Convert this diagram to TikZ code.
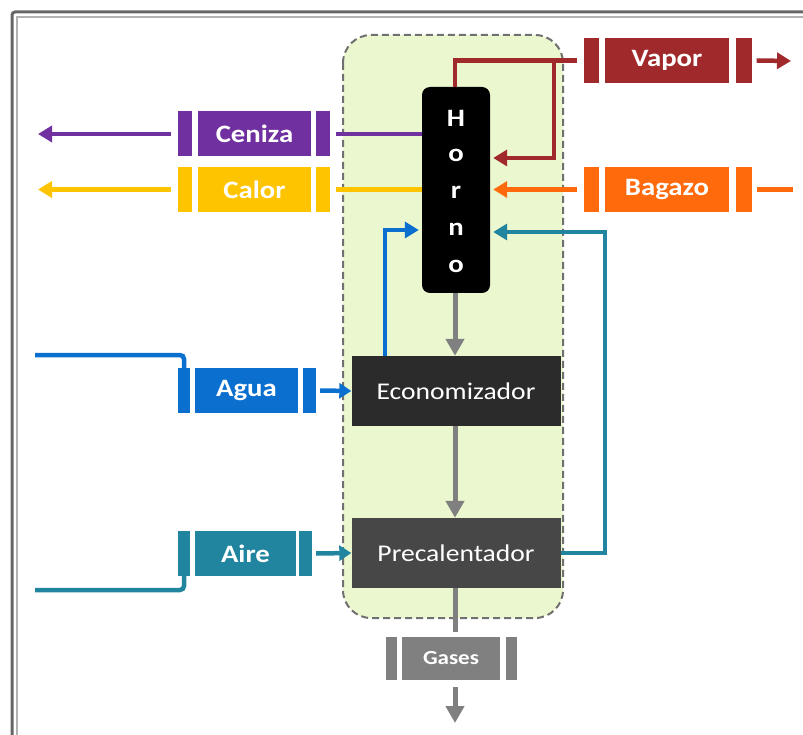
\documentclass[tikz,border=0pt]{standalone}
\usepackage{fontspec}
\setmainfont{Carlito}
\newfontfamily\tagfont{Carlito}[FakeStretch=1.15]
\usetikzlibrary{arrows.meta}
\definecolor{cvapor}{HTML}{A0292B}
\definecolor{cbagazo}{HTML}{FF6A0D}
\definecolor{cceniza}{HTML}{7030A0}
\definecolor{ccalor}{HTML}{FFC400}
\definecolor{cagua}{HTML}{0B6FCF}
\definecolor{caire}{HTML}{2185A0}
\definecolor{cecon}{HTML}{2B2B2B}
\definecolor{cpre}{HTML}{474747}
\definecolor{cgas}{HTML}{808080}
\definecolor{cgreen}{HTML}{EBF8CF}
\definecolor{cdash}{HTML}{707070}
\tikzset{
  tagmain/.style={fill=#1, draw=none, inner sep=0pt, text=white, font=\tagfont\bfseries\fontsize{25}{27}\selectfont, minimum height=45pt},
  tagbar/.style={fill=#1, draw=none, inner sep=0pt, minimum width=14pt, minimum height=45pt},
  flow/.style={draw=#1, line width=4.5pt},
  flowarrow/.style={draw=#1, line width=4.5pt, -{Triangle[length=14pt,width=16pt]}},
  grayarrow/.style={draw=cgas, line width=5pt, -{Triangle[length=17pt,width=18pt]}},
  procbox/.style={fill=#1, draw=none, text=white, font=\tagfont\fontsize{24}{26}\selectfont, minimum width=209pt, minimum height=70pt, inner sep=0pt},
}
\begin{document}
\begin{tikzpicture}[x=1pt,y=-1pt]
\useasboundingbox (0,0) rectangle (803,735);
% frame
\draw[line width=3pt, draw=black!60, rounded corners=3pt] (12,12) rectangle (830,760);
\draw[line width=1.2pt, draw=black!30] (17,17) rectangle (830,760);
% dashed container
\draw[fill=cgreen, draw=cdash, line width=2pt, dash pattern=on 7pt off 4pt, rounded corners=28pt] (343,35) rectangle (563,618);
% process nodes
\node[fill=black, rounded corners=8pt, minimum width=68pt, minimum height=206pt, inner sep=0pt] (horno) at (456,190) {};
\foreach \ch/\yy [count=\i] in {H/118,o/155,r/192,n/229,o/266}
  \node[text=white, font=\tagfont\bfseries\fontsize{25}{26}\selectfont, inner sep=0pt] (hl\i) at (456,\yy) {\ch};
\node[procbox=cecon] (econ) at (456,391) {Economizador};
\node[procbox=cpre] (pre) at (456,553) {Precalentador};
% tags
\node[tagmain=cceniza, minimum width=113pt] (cen) at (254.5,134) {Ceniza};
\node[tagbar=cceniza] (cenL) at (184.5,134) {};
\node[tagbar=cceniza] (cenR) at (323,134) {};
\node[tagmain=ccalor, minimum width=113pt] (cal) at (254.5,189.5) {Calor};
\node[tagbar=ccalor] (calL) at (184.5,189.5) {};
\node[tagbar=ccalor] (calR) at (323,189.5) {};
\node[tagmain=cvapor, minimum width=124pt] (vap) at (667,60.5) {Vapor};
\node[tagbar=cvapor, minimum width=15pt] (vapL) at (591.5,60.5) {};
\node[tagbar=cvapor, minimum width=16pt] (vapR) at (743.5,60.5) {};
\node[tagmain=cbagazo, minimum width=124pt] (bag) at (667,189.5) {Bagazo};
\node[tagbar=cbagazo, minimum width=15pt] (bagL) at (591.5,189.5) {};
\node[tagbar=cbagazo, minimum width=16pt] (bagR) at (743.5,189.5) {};
\node[tagmain=cagua, minimum width=103pt] (agua) at (246.5,390.5) {Agua};
\node[tagbar=cagua, minimum width=12pt] (agL) at (184,390.5) {};
\node[tagbar=cagua, minimum width=13pt] (agR) at (309.5,390.5) {};
\node[tagmain=caire, minimum width=101pt] (aire) at (245.5,553.5) {Aire};
\node[tagbar=caire, minimum width=12pt] (aiL) at (184,553.5) {};
\node[tagbar=caire, minimum width=13pt] (aiR) at (305.5,553.5) {};
\node[tagmain=cgas, minimum width=98pt, minimum height=43pt, font=\tagfont\bfseries\fontsize{20}{22}\selectfont] (gas) at (451,658.5) {Gases};
\node[tagbar=cgas, minimum width=11pt, minimum height=43pt] (gasL) at (391.5,658.5) {};
\node[tagbar=cgas, minimum width=11pt, minimum height=43pt] (gasR) at (511.5,658.5) {};
% free ends / waypoints
\coordinate (cenout) at (38,134);
\coordinate (calout) at (38,189.5);
\coordinate (vapout) at (791,61);
\coordinate (vapj) at (554,60);
\coordinate (vapback) at (0,158);
\coordinate (bagin) at (793,189.5);
\coordinate (aguain) at (35,355);
\coordinate (aguaup) at (0,230);
\coordinate (tealx) at (605,232);
\coordinate (airein) at (35,590);
\coordinate (gastop) at (455,632);
\coordinate (gasout1) at (455,687);
\coordinate (gasout2) at (455,723);
% ceniza
\draw[flow=cceniza] (horno.west |- cen) -- ([xshift=6pt]cenR.east);
\draw[flowarrow=cceniza] ([xshift=-6pt]cenL.west) -- (cenout);
% calor
\draw[flow=ccalor] (horno.west |- cal) -- ([xshift=6pt]calR.east);
\draw[flowarrow=ccalor] ([xshift=-6pt]calL.west) -- (calout);
% vapor
\draw[flow=cvapor] ([xshift=-1pt]horno.north) |- ([xshift=-7pt]vapL.west);
\draw[flowarrow=cvapor, shorten >=3pt] (vapj) |- (horno.east |- vapback);
\draw[flowarrow=cvapor] ([xshift=5pt]vapR.east) -- (vapout);
% bagazo
\draw[flowarrow=cbagazo, shorten >=3pt] ([xshift=-7pt]bagL.west) -- (horno.east |- bag);
\draw[flow=cbagazo] (bagin) -- ([xshift=5pt]bagR.east);
% agua
\draw[flow=cagua, rounded corners=4pt] (aguain) -| ([yshift=-5pt]agL.north);
\draw[flowarrow=cagua, -{Triangle[length=12pt,width=15pt]}] ([xshift=4pt]agR.east) -- (econ.west);
\draw[flowarrow=cagua, shorten >=3pt] ([xshift=-71pt]econ.north) |- (horno.west |- aguaup);
% aire
\draw[flow=caire, rounded corners=4pt] (airein) -| ([yshift=5pt]aiL.south);
\draw[flowarrow=caire, -{Triangle[length=12pt,width=15pt]}] ([xshift=4pt]aiR.east) -- (pre.west);
\draw[flowarrow=caire, shorten >=3pt] (pre.east) -| (tealx) -- (horno.east |- tealx);
% gray flow
\draw[grayarrow] ([xshift=-1pt]horno.south) -- ([xshift=-1pt]econ.north);
\draw[grayarrow] ([xshift=-1pt]econ.south) -- ([xshift=-1pt]pre.north);
\draw[draw=cgas, line width=5pt] ([xshift=-1pt]pre.south) -- (gastop);
\draw[grayarrow] (gasout1) -- (gasout2);
\end{tikzpicture}
\end{document}
